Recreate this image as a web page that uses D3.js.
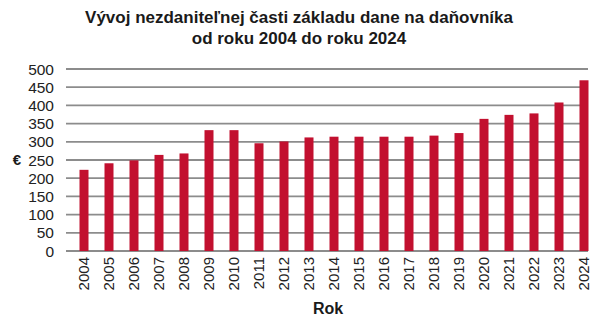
<!DOCTYPE html>
<html>
<head>
<meta charset="utf-8">
<script src="https://cdn.jsdelivr.net/npm/d3@7"></script>
<style>
  body { margin: 0; background: #fff; }
  svg { display: block; font-family: "Liberation Sans", Arial, sans-serif; }
</style>
</head>
<body>
<svg id="chart" width="600" height="323"></svg>
<script>
  // Data
  const years = ['2004', '2005', '2006', '2007', '2008', '2009', '2010', '2011', '2012', '2013',
    '2014', '2015', '2016', '2017', '2018', '2019', '2020', '2021', '2022', '2023', '2024'];
  const values = [223, 241, 249, 264, 268, 332, 332, 296, 301, 312,
    314, 314, 314, 314, 317, 324, 363, 374, 378, 408, 469];
  const yTicks = [0, 50, 100, 150, 200, 250, 300, 350, 400, 450, 500];
  const titleLines = ['Vývoj nezdaniteľnej časti základu dane na daňovníka', 'od roku 2004 do roku 2024'];

  const svg = d3.select('#chart');

  // Layout
  const plotLeft = 66, plotRight = 588;
  const y = d3.scaleLinear().domain([0, 500]).range([251, 69]);
  const x = d3.scaleBand().domain(years)
    .range([71.5, 596.5])
    .paddingInner(0.64)
    .paddingOuter(0.32);

  // Title
  svg.append('g').selectAll('text')
    .data(titleLines)
    .join('text')
    .attr('x', 299)
    .attr('y', (d, i) => 23 + i * 21)
    .attr('text-anchor', 'middle')
    .attr('font-size', 17)
    .attr('font-weight', 'bold')
    .attr('fill', '#1a1a1a')
    .text(d => d);

  // Gridlines
  svg.append('g').selectAll('line')
    .data(yTicks)
    .join('line')
    .attr('x1', plotLeft)
    .attr('x2', plotRight)
    .attr('y1', d => y(d))
    .attr('y2', d => y(d))
    .attr('stroke', '#8c8c8c')
    .attr('stroke-width', 1.8);

  // Y axis labels
  svg.append('g').selectAll('text')
    .data(yTicks)
    .join('text')
    .attr('x', 54)
    .attr('y', d => y(d))
    .attr('dy', '0.36em')
    .attr('text-anchor', 'end')
    .attr('font-size', 15.5)
    .attr('fill', '#222')
    .text(d => d);

  // Y axis title
  svg.append('text')
    .attr('x', 17)
    .attr('y', y(250))
    .attr('dy', '0.36em')
    .attr('text-anchor', 'middle')
    .attr('font-size', 15)
    .attr('font-weight', 'bold')
    .attr('fill', '#1a1a1a')
    .text('€');

  // Bars
  svg.append('g').selectAll('rect')
    .data(values)
    .join('rect')
    .attr('x', (d, i) => x(years[i]))
    .attr('y', d => y(d))
    .attr('width', x.bandwidth())
    .attr('height', d => y(0) - y(d))
    .attr('fill', '#c2102f');

  // X axis labels (rotated)
  svg.append('g').selectAll('text')
    .data(years)
    .join('text')
    .attr('transform', d => 'translate(' + (x(d) + x.bandwidth() / 2) + ',257) rotate(-90)')
    .attr('dy', '0.36em')
    .attr('text-anchor', 'end')
    .attr('font-size', 15)
    .attr('fill', '#222')
    .text(d => d);

  // X axis title
  svg.append('text')
    .attr('x', 328)
    .attr('y', 314)
    .attr('text-anchor', 'middle')
    .attr('font-size', 16)
    .attr('font-weight', 'bold')
    .attr('fill', '#1a1a1a')
    .text('Rok');
</script>
</body>
</html>
